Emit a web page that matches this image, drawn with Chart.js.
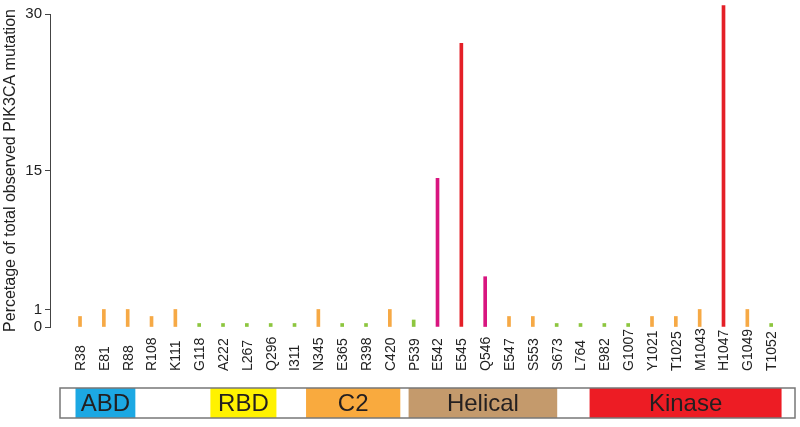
<!DOCTYPE html>
<html>
<head>
<meta charset="utf-8">
<script src="https://cdn.jsdelivr.net/npm/chart.js@4.4.1/dist/chart.umd.min.js"></script>
<style>
  body { margin: 0; background: #fff; }
  canvas { display: block; }
</style>
</head>
<body>
<canvas id="mutChart" width="800" height="380"></canvas>
<canvas id="domainChart" width="800" height="47"></canvas>
<script>
const mutations = ['R38', 'E81', 'R88', 'R108', 'K111', 'G118', 'A222', 'L267', 'Q296', 'I311',
  'N345', 'E365', 'R398', 'C420', 'P539', 'E542', 'E545', 'Q546', 'E547', 'S553',
  'S673', 'L764', 'E982', 'G1007', 'Y1021', 'T1025', 'M1043', 'H1047', 'G1049', 'T1052'];
const percent = [0.6, 1.0, 1.0, 0.6, 1.0, 0.2, 0.2, 0.2, 0.2, 0.2,
  1.0, 0.2, 0.2, 1.0, 0.4, 14.2, 27.2, 4.3, 0.6, 0.6,
  0.2, 0.2, 0.2, 0.2, 0.6, 0.6, 1.0, 30.8, 1.0, 0.2];
const yTicks = [0, 1, 15, 30];

const domainNames = ['ABD', 'RBD', 'C2', 'Helical', 'Kinase'];
const domainStart = [23, 219, 358, 507, 770];
const domainEnd = [109, 314, 494, 722, 1048];
const proteinLength = 1068;

// colours
const orange = '#F6A945', green = '#8DC63F', magenta = '#D8157F', red = '#E41F27';
const barColors = [orange, orange, orange, orange, orange, green, green, green, green, green,
  orange, green, green, orange, green, magenta, red, magenta, orange, orange,
  green, green, green, green, orange, orange, orange, red, orange, green];
const domainColors = ['#1CA8E3', '#FFF200', '#F9AA3E', '#C49A6C', '#ED1C24'];

Chart.defaults.font.family = "'Liberation Sans', Arial, sans-serif";
Chart.defaults.animation = false;

// y axis is stretched below 1 so the small bars stay visible
const yBreaks = [[0, 0], [1, 0.056], [15, 0.5], [30, 1]];

class BrokenScale extends Chart.LinearScale {
  toDecimal(v) {
    let i = 1;
    while (i < yBreaks.length - 1 && v > yBreaks[i][0]) i++;
    const [v0, d0] = yBreaks[i - 1], [v1, d1] = yBreaks[i];
    return d0 + (v - v0) / (v1 - v0) * (d1 - d0);
  }
  getPixelForValue(v) {
    return this.getPixelForDecimal(this.toDecimal(v));
  }
  getValueForPixel(px) {
    const d = this.getDecimalForPixel(px);
    let i = 1;
    while (i < yBreaks.length - 1 && d > yBreaks[i][1]) i++;
    const [v0, d0] = yBreaks[i - 1], [v1, d1] = yBreaks[i];
    return v0 + (d - d0) / (d1 - d0) * (v1 - v0);
  }
}
BrokenScale.id = 'broken';
BrokenScale.defaults = Chart.LinearScale.defaults;
Chart.register(BrokenScale);

const xLabels = {
  id: 'xLabels',
  afterDraw(chart) {
    const ctx = chart.ctx;
    const xs = chart.scales.x;
    ctx.save();
    ctx.font = "14px 'Liberation Sans', Arial, sans-serif";
    ctx.fillStyle = '#222';
    ctx.textAlign = 'left';
    ctx.textBaseline = 'middle';
    mutations.forEach((m, i) => {
      ctx.save();
      ctx.translate(xs.getPixelForValue(i) + 1, 371);
      ctx.rotate(-Math.PI / 2);
      ctx.fillText(m, 0, 0);
      ctx.restore();
    });
    ctx.restore();
  }
};

new Chart(document.getElementById('mutChart'), {
  type: 'bar',
  data: {
    datasets: [{
      data: percent.map((v, i) => ({ x: i, y: v })),
      backgroundColor: barColors,
      barThickness: 3,
      borderWidth: 0,
      clip: false,
    }],
  },
  options: {
    responsive: false,
    layout: { padding: { top: 14, right: 5, bottom: 53, left: 0 } },
    plugins: { legend: { display: false }, tooltip: { enabled: false } },
    scales: {
      x: { type: 'linear', min: -1.26, max: 30, offset: false, bounds: 'data', display: false },
      y: {
        type: 'broken',
        min: 0,
        max: 30,
        afterBuildTicks: (s) => { s.ticks = yTicks.map((v) => ({ value: v })); },
        afterFit: (s) => { s.width = 50; },
        border: { color: '#444', width: 1 },
        grid: { drawOnChartArea: false, tickLength: 5, color: '#444' },
        ticks: { autoSkip: false, color: '#222', padding: 3, font: { size: 15 }, callback: (v) => v },
        title: {
          display: true,
          text: 'Percetage of total observed PIK3CA mutation',
          color: '#222',
          font: { size: 16 },
          padding: { top: 1, bottom: 0 },
        },
      },
    },
  },
  plugins: [xLabels],
});

const domainBox = {
  id: 'domainBox',
  afterDatasetsDraw(chart) {
    const ctx = chart.ctx;
    const a = chart.chartArea;
    ctx.save();
    ctx.strokeStyle = '#777';
    ctx.lineWidth = 1.5;
    ctx.strokeRect(a.left, a.top, a.right - a.left, a.bottom - a.top);
    ctx.font = "24px 'Liberation Sans', Arial, sans-serif";
    ctx.fillStyle = '#231F20';
    ctx.textAlign = 'center';
    ctx.textBaseline = 'middle';
    chart.data.datasets.forEach((ds, i) => {
      const bar = chart.getDatasetMeta(i).data[0];
      ctx.fillText(ds.label, (bar.x + bar.base) / 2, bar.y + 1);
    });
    ctx.restore();
  }
};

new Chart(document.getElementById('domainChart'), {
  type: 'bar',
  data: {
    labels: ['PIK3CA'],
    datasets: domainNames.map((n, i) => ({
      label: n,
      data: [[domainStart[i], domainEnd[i]]],
      backgroundColor: domainColors[i],
      barPercentage: 1,
      categoryPercentage: 1,
      grouped: false,
      borderWidth: 0,
    })),
  },
  options: {
    responsive: false,
    indexAxis: 'y',
    layout: { padding: { top: 8, right: 5, bottom: 9, left: 60 } },
    plugins: { legend: { display: false }, tooltip: { enabled: false } },
    scales: {
      x: { type: 'linear', min: 0, max: proteinLength, display: false },
      y: { display: false },
    },
  },
  plugins: [domainBox],
});
</script>
</body>
</html>
